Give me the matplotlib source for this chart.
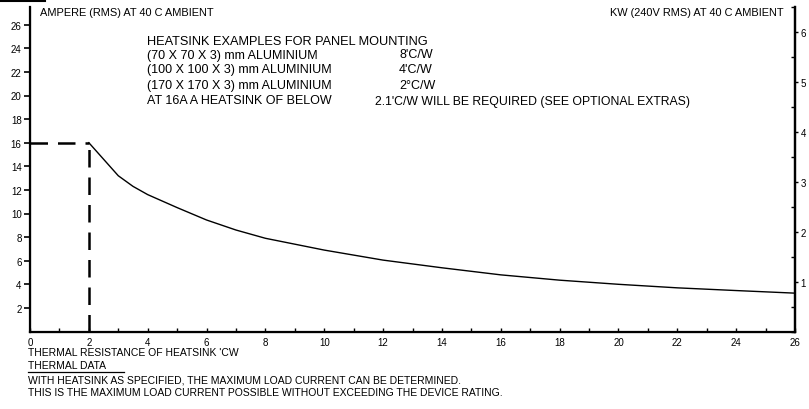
import matplotlib.pyplot as plt
from matplotlib.lines import Line2D
from matplotlib.ticker import MultipleLocator

plt.rcParams['font.family'] = ['Liberation Sans', 'DejaVu Sans']

# heatsink thermal resistance ('C/W) vs max load current (A)
res = [2, 2.25, 2.5, 3, 3.5, 4, 5, 6, 7, 8, 10, 12, 14, 16, 18, 20, 22, 24, 26]
amps = [16, 15.3, 14.6, 13.2, 12.3, 11.6, 10.5, 9.45, 8.6, 7.9, 6.9, 6.05, 5.4, 4.8, 4.35, 4.0, 3.7, 3.47, 3.25]
rated_res = 2
rated_amps = 16

x_ticks = list(range(0, 27, 2))
amp_ticks = list(range(2, 27, 2))
kw_ticks = [1, 2, 3, 4, 5, 6]

examples = [("(70 X 70 X 3) mm ALUMINIUM", "8'C/W"),
            ("(100 X 100 X 3) mm ALUMINIUM", "4'C/W"),
            ("(170 X 170 X 3) mm ALUMINIUM", "2°C/W")]

W, H = 809, 410
fig = plt.figure(figsize=(W / 100, H / 100), dpi=100)
ax = fig.add_axes([30 / W, 1 - 332.5 / H, 765 / W, 324.5 / H])

ax.plot(res, amps, color='black', lw=1.0)
ax.plot([0, rated_res], [rated_amps, rated_amps], color='black', lw=1.8, dashes=(7, 4))
ax.plot([rated_res, rated_res], [0, rated_amps], color='black', lw=1.8, dashes=(7, 4))

ax.set_xlim(0, 26)
ax.set_ylim(0, 27.5)
ax.set_xticks(x_ticks)
ax.xaxis.set_minor_locator(MultipleLocator(1))
ax.set_yticks(amp_ticks)
ax.tick_params(axis='x', which='both', direction='in', length=3, width=1, labelsize=7, pad=4)
ax.tick_params(axis='y', direction='out', length=4, width=1.2, labelsize=7, pad=2)
ax.spines['top'].set_visible(False)
for s in ['left', 'bottom', 'right']:
    ax.spines[s].set_linewidth(1.6)

ax2 = ax.twinx()
ax2.set_ylim(0, 6.5)
ax2.set_yticks(kw_ticks)
ax2.yaxis.set_minor_locator(MultipleLocator(0.5))
ax2.tick_params(axis='y', which='major', direction='out', length=2, width=1, labelsize=7, pad=2)
ax2.tick_params(axis='y', which='minor', direction='in', length=3, width=1)
ax2.spines['top'].set_visible(False)
ax2.spines['right'].set_linewidth(1.6)

def px(x, y, s, **kw):
    fig.text(x / W, 1 - y / H, s, va='center', **kw)

px(40, 13, "AMPERE (RMS) AT 40 C AMBIENT", fontsize=7.9)
px(784, 13, "KW (240V RMS) AT 40 C AMBIENT", fontsize=7.9, ha='right')

rows = [55.5, 70.5, 86]
px(147, 42, "HEATSINK EXAMPLES FOR PANEL MOUNTING", fontsize=9.2)
for (name, val), y in zip(examples, rows):
    px(147, y, name, fontsize=9.0)
    px(399, y, val, fontsize=9.0)
px(147, 101.5, "AT 16A A HEATSINK OF BELOW", fontsize=9.0)
px(375, 101.5, "2.1'C/W WILL BE REQUIRED (SEE OPTIONAL EXTRAS)", fontsize=8.8)

px(28, 353, "THERMAL RESISTANCE OF HEATSINK 'CW", fontsize=7.5)
px(28, 366.5, "THERMAL DATA", fontsize=7.5)
px(28, 381, "WITH HEATSINK AS SPECIFIED, THE MAXIMUM LOAD CURRENT CAN BE DETERMINED.", fontsize=7.5)
px(28, 393.5, "THIS IS THE MAXIMUM LOAD CURRENT POSSIBLE WITHOUT EXCEEDING THE DEVICE RATING.", fontsize=7.5)

fig.add_artist(Line2D([28 / W, 124 / W], [1 - 372.5 / H, 1 - 372.5 / H], color='black', lw=0.9))
fig.add_artist(Line2D([0, 45 / W], [1 - 1.5 / H, 1 - 1.5 / H], color='black', lw=1.5))

fig.savefig('out.png', dpi=100)
